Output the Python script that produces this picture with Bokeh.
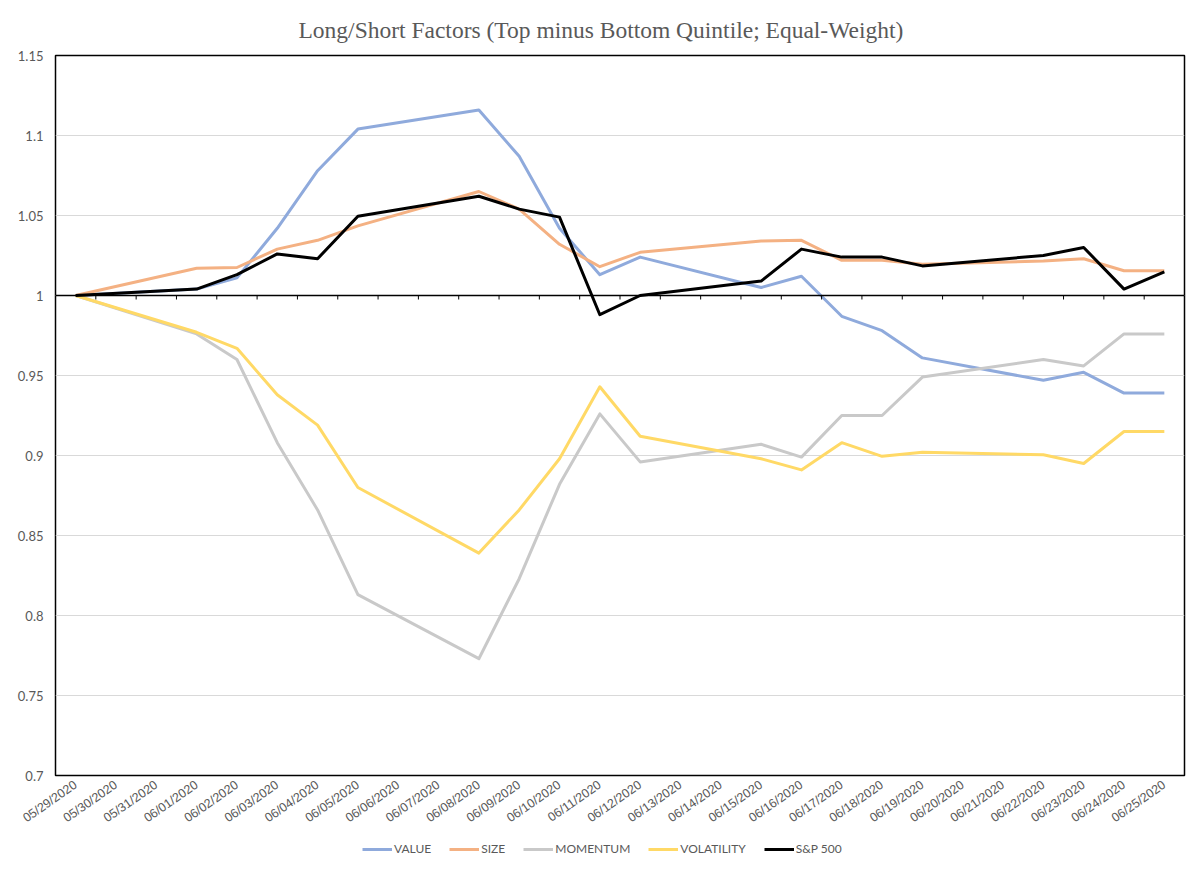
from math import pi
from bokeh.plotting import figure
from bokeh.models import (Range1d, FixedTicker, Legend, LegendItem, Span)
from bokeh.layouts import column
from bokeh.embed import file_html
from bokeh.resources import INLINE

# ---- data ----
axis_dates = ["05/29/2020", "05/30/2020", "05/31/2020", "06/01/2020", "06/02/2020",
              "06/03/2020", "06/04/2020", "06/05/2020", "06/06/2020", "06/07/2020",
              "06/08/2020", "06/09/2020", "06/10/2020", "06/11/2020", "06/12/2020",
              "06/13/2020", "06/14/2020", "06/15/2020", "06/16/2020", "06/17/2020",
              "06/18/2020", "06/19/2020", "06/20/2020", "06/21/2020", "06/22/2020",
              "06/23/2020", "06/24/2020", "06/25/2020"]

trade_dates = ["05/29/2020", "06/01/2020", "06/02/2020", "06/03/2020", "06/04/2020",
               "06/05/2020", "06/08/2020", "06/09/2020", "06/10/2020", "06/11/2020",
               "06/12/2020", "06/15/2020", "06/16/2020", "06/17/2020", "06/18/2020",
               "06/19/2020", "06/22/2020", "06/23/2020", "06/24/2020", "06/25/2020"]

value = [1.000, 1.004, 1.011, 1.042, 1.078, 1.104, 1.116, 1.087, 1.042, 1.013,
         1.024, 1.005, 1.012, 0.987, 0.978, 0.961, 0.947, 0.952, 0.939, 0.939]
size = [1.000, 1.017, 1.0175, 1.029, 1.0345, 1.0435, 1.065, 1.054, 1.032, 1.018,
        1.027, 1.034, 1.0345, 1.022, 1.022, 1.0195, 1.0215, 1.023, 1.0155, 1.0155]
momentum = [1.000, 0.976, 0.960, 0.908, 0.866, 0.813, 0.773, 0.823, 0.882, 0.926,
            0.896, 0.907, 0.899, 0.925, 0.925, 0.949, 0.960, 0.956, 0.976, 0.976]
volatility = [1.000, 0.977, 0.967, 0.938, 0.919, 0.880, 0.839, 0.866, 0.898, 0.943,
              0.912, 0.898, 0.891, 0.908, 0.8995, 0.902, 0.9005, 0.895, 0.915, 0.915]
sp500 = [1.000, 1.004, 1.013, 1.026, 1.023, 1.0495, 1.062, 1.054, 1.049, 0.988,
         1.000, 1.009, 1.029, 1.024, 1.024, 1.0185, 1.025, 1.030, 1.004, 1.0148]

series_names = ["VALUE", "SIZE", "MOMENTUM", "VOLATILITY", "S&P 500"]
series_values = [value, size, momentum, volatility, sp500]
series_colors = ["#8FAADC", "#F4B183", "#C9C9C9", "#FFD966", "#000000"]

y_ticks = [0.7, 0.75, 0.8, 0.85, 0.9, 0.95, 1.0, 1.05, 1.1, 1.15]
y_tick_labels = ["0.7", "0.75", "0.8", "0.85", "0.9", "0.95", "1", "1.05", "1.1", "1.15"]
cross_value = 1.0

title_text = "Long/Short Factors (Top minus Bottom Quintile; Equal-Weight)"

# ---- main figure ----
xs = [axis_dates.index(d) for d in trade_dates]
between_ticks = [i + 0.5 for i in range(len(axis_dates) - 1)]

p = figure(frame_width=1129, frame_height=720, output_backend="svg", toolbar_location=None,
           x_range=Range1d(-0.5, len(axis_dates) - 0.5),
           y_range=Range1d(y_ticks[0], y_ticks[-1]),
           min_border_left=55, min_border_right=8, min_border_top=55, min_border_bottom=62)

p.background_fill_color = "white"
p.border_fill_color = "white"
p.outline_line_color = "black"
p.outline_line_width = 1.5

p.title.text = title_text
p.title.align = "left"
p.title.offset = 243
p.title.vertical_align = "top"
p.title.text_font = "Liberation Serif"
p.title.text_font_size = "23.5px"
p.title.text_font_style = "normal"
p.title.text_color = "#595959"
p.title.standoff = 22

# y axis
p.yaxis.ticker = FixedTicker(ticks=y_ticks)
p.yaxis.major_label_overrides = {t: l for t, l in zip(y_ticks, y_tick_labels)}
p.yaxis.axis_line_color = None
p.yaxis.major_tick_line_color = None
p.yaxis.major_tick_out = 0
p.yaxis.major_tick_in = 0
p.yaxis.minor_tick_line_color = None
p.yaxis.major_label_text_font = "Lato"
p.yaxis.major_label_text_font_size = "13px"
p.yaxis.major_label_text_color = "#595959"
p.yaxis.major_label_standoff = 12

# x axis (labels only)
p.xaxis.ticker = FixedTicker(ticks=list(range(len(axis_dates))))
p.xaxis.major_label_overrides = {i: d for i, d in enumerate(axis_dates)}
p.xaxis.major_label_orientation = 0.61
p.xaxis.axis_line_color = None
p.xaxis.major_tick_line_color = None
p.xaxis.major_tick_out = 0
p.xaxis.major_tick_in = 0
p.xaxis.minor_tick_line_color = None
p.xaxis.major_label_text_font = "Liberation Sans"
p.xaxis.major_label_text_font_size = "12.5px"
p.xaxis.major_label_text_color = "#595959"
p.xaxis.major_label_standoff = 8

p.xgrid.visible = False
p.ygrid.ticker = FixedTicker(ticks=y_ticks)
p.ygrid.grid_line_color = "#D9D9D9"
p.ygrid.grid_line_width = 1

for name, vals, col in zip(series_names, series_values, series_colors):
    p.line(xs, vals, line_color=col, line_width=3, line_join="round")

# horizontal axis crossing at y = 1 with small tick marks between dates
p.add_layout(Span(location=cross_value, dimension="width", line_color="black", line_width=1.5))
p.ray(x=between_ticks, y=[cross_value] * len(between_ticks), length=4, length_units="screen",
      angle=-pi / 2, line_color="black", line_width=1)

# ---- legend strip (same series, drawn outside its visible range) ----
lg = figure(width=p.min_border_left + 1129 + p.min_border_right, height=28,
            output_backend="svg", toolbar_location=None,
            x_axis_type=None, y_axis_type=None, min_border=0,
            x_range=Range1d(1000, 1001), y_range=Range1d(1000, 1001))
lg.outline_line_color = None
lg.xgrid.visible = False
lg.ygrid.visible = False
items = []
for name, vals, col in zip(series_names, series_values, series_colors):
    r = lg.line(xs, vals, line_color=col, line_width=3)
    items.append(LegendItem(label=name, renderers=[r]))

legend = Legend(items=items, orientation="horizontal", location=(307, 9),
                glyph_width=30, glyph_height=12, label_standoff=2, spacing=18,
                label_text_font="Lato", label_text_font_size="12px",
                label_text_color="#595959", border_line_color=None,
                background_fill_alpha=0, padding=0, margin=0)
lg.add_layout(legend, "center")

layout = column(p, lg, spacing=0)
open("out.html", "w").write(file_html(layout, INLINE))
